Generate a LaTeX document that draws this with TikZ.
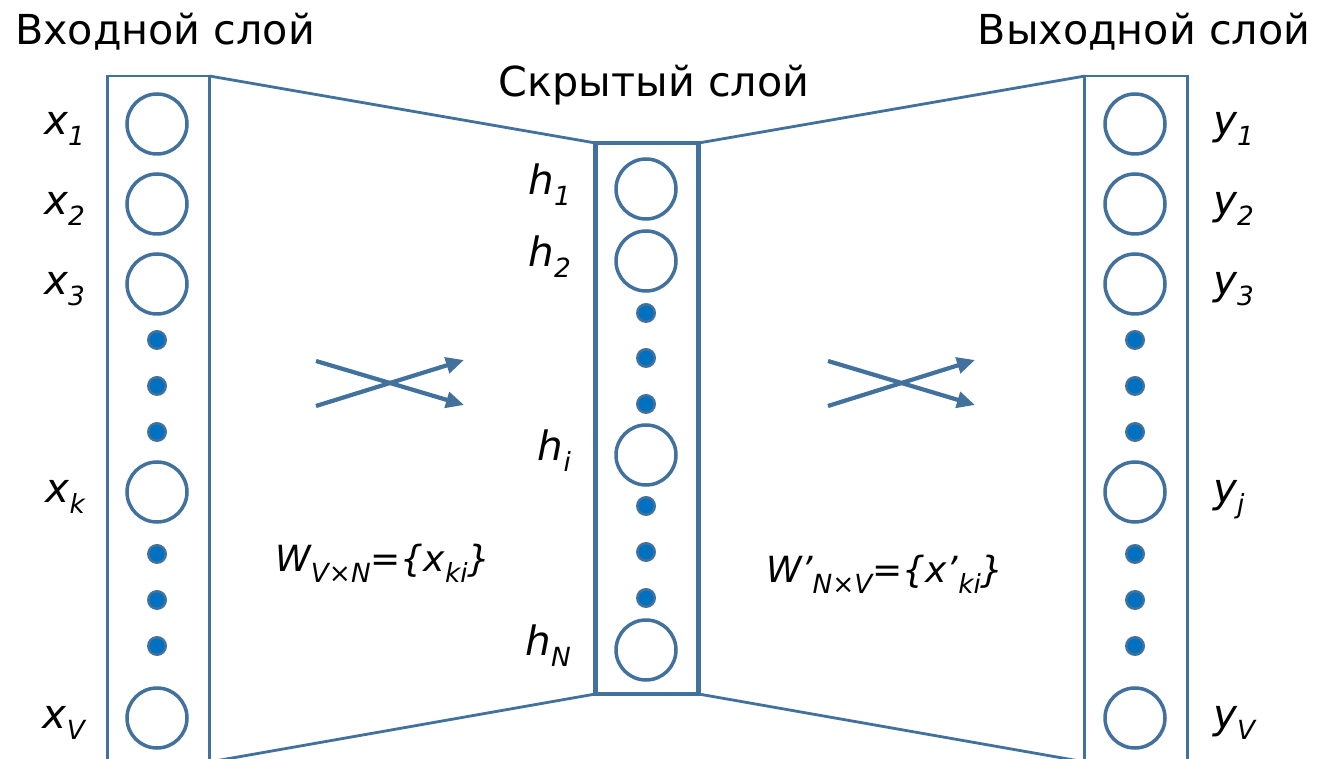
\documentclass[tikz,border=0pt]{standalone}
\usepackage{fontspec}
\setmainfont{DejaVu Sans}
\usetikzlibrary{positioning,arrows.meta}
\definecolor{netblue}{RGB}{65,113,156}
\definecolor{dotblue}{RGB}{0,112,192}
\newcommand{\lowsub}[1]{\raisebox{-6pt}{\fontsize{15}{17}\selectfont #1}}

\begin{document}
\begin{tikzpicture}[
    x=0.02cm, y=-0.02cm,
    neuron/.style={circle, draw=netblue, line width=2pt,
        minimum size=1.2cm, inner sep=0pt},
    dotnode/.style={circle, draw=netblue, fill=dotblue, line width=1.4pt,
        minimum size=0.35cm, inner sep=0pt},
    layer/.style={rectangle, draw=netblue, line width=1.6pt,
        inner sep=0pt, outer sep=0pt, minimum width=2.05cm},
    hidlayer/.style={layer, line width=2.6pt},
    title/.style={font=\fontsize{23.5}{28}\selectfont, inner sep=0pt, anchor=base},
    varlabel/.style={font=\fontsize{23}{27}\selectfont\itshape, inner sep=0pt},
    link/.style={draw=netblue, line width=1.6pt},
    arrow/.style={-{Triangle[length=0.36cm, width=0.32cm]}, draw=netblue, line width=2.4pt}
]
\clip (0,0) rectangle (1342,759);

% Layers
\node[layer, minimum height=13.72cm] (inbox) at (158.5,419) {};
\node[hidlayer, minimum height=11.02cm] (hidbox) at (647,418.5) {};
\node[layer, minimum height=13.72cm] (outbox) at (1136,419) {};

% Titles
\node[title] (tin) at (165,45) {Входной слой};
\node[title] (thid) at (654,97) {Скрытый слой};
\node[title] (tout) at (1144,45) {Выходной слой};

% Input and output neurons
\foreach \y/\a/\b in {124/1/1, 204/2/2, 284/3/3, 492/k/j, 718/V/V} {
    \node[neuron] (x\a) at (157,\y) {};
    \node[varlabel, left=0.8cm of x\a.west, anchor=base east, yshift=-0.22cm] (lx\a) {x\lowsub{\a}};
    \node[neuron] (y\b) at (1135,\y) {};
    \node[varlabel, right=0.92cm of y\b.east, anchor=base west, yshift=-0.22cm] (ly\b) {y\lowsub{\b}};
}
\foreach \y [count=\k] in {340, 386, 432, 554, 600, 646} {
    \node[dotnode] (xd\k) at (157,\y) {};
    \node[dotnode] (yd\k) at (1135,\y) {};
}

% Hidden neurons
\foreach \y/\a in {189/1, 261/2, 455/i, 650/N} {
    \node[neuron] (h\a) at (646,\y) {};
    \node[varlabel, left=0.86cm of h\a.west, anchor=base east, yshift=-0.12cm] (lh\a) {h\lowsub{\a}};
}
\foreach \y [count=\k] in {313, 358, 404, 506, 552, 598} {
    \node[dotnode] (hd\k) at (646,\y) {};
}

% Links between layers
\draw[link] (inbox.north east) -- (hidbox.north west);
\draw[link] (hidbox.north east) -- (outbox.north west);
\draw[link] (hidbox.south west) -- (inbox.south east);
\draw[link] (hidbox.south east) -- (outbox.south west);

% Weight arrows
\coordinate (wa1) at (316,361); \coordinate (wb1) at (464,405);
\coordinate (wa2) at (316,406); \coordinate (wb2) at (464,360);
\coordinate (va1) at (828,361); \coordinate (vb1) at (975,405);
\coordinate (va2) at (828,406); \coordinate (vb2) at (975,360);
\draw[arrow] (wa1) -- (wb1);
\draw[arrow] (wa2) -- (wb2);
\draw[arrow] (va1) -- (vb1);
\draw[arrow] (va2) -- (vb2);

% Weight matrices
\node[varlabel, anchor=base, font=\fontsize{20.5}{24}\selectfont\itshape] (win) at (383,572)
    {W\lowsub{V×N}=\{x\lowsub{ki}\}};
\node[varlabel, anchor=base, font=\fontsize{20.5}{24}\selectfont\itshape] (wout) at (885,583)
    {W’\lowsub{N×V}=\{x’\lowsub{ki}\}};

\end{tikzpicture}
\end{document}
